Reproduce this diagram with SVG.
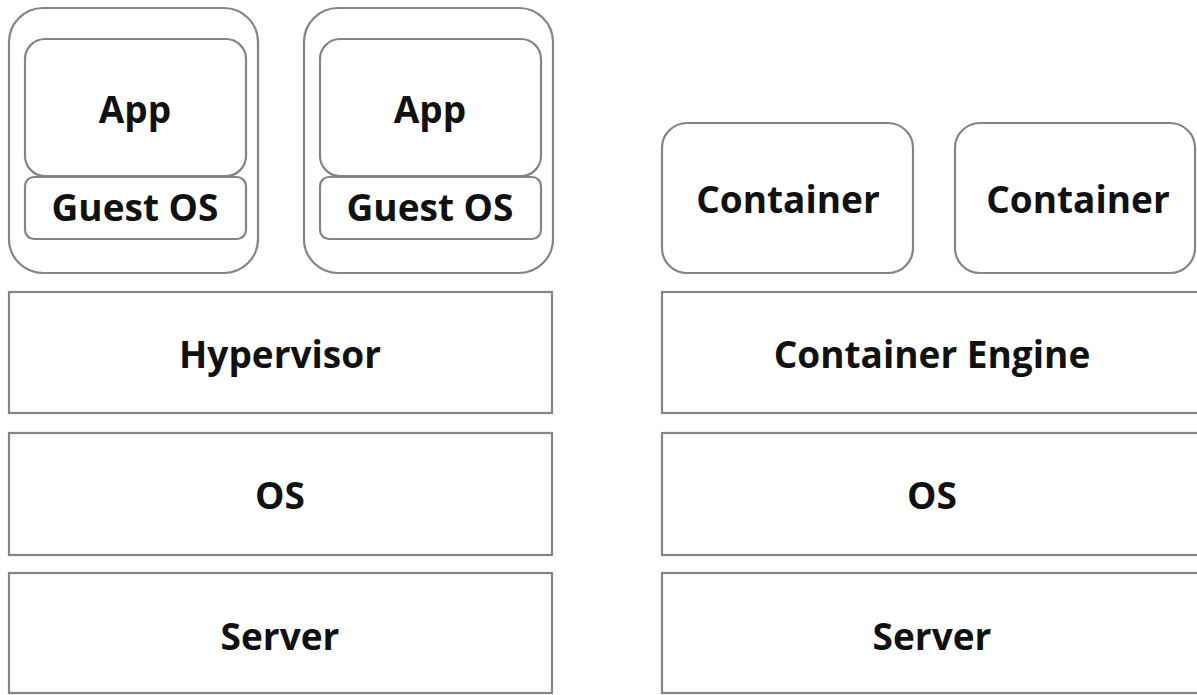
<svg xmlns="http://www.w3.org/2000/svg" width="1197" height="695" viewBox="0 0 1197 695">
<style>
.box{fill:#fff;stroke:#858585;stroke-width:2.2}
.t{font-family:"Open Sans","Liberation Sans",sans-serif;font-weight:bold;font-size:37px;fill:#111;text-anchor:middle}
</style>
<rect width="1197" height="695" fill="#fff"/>
<g id="vm1">
<rect class="box" x="9" y="8" width="249" height="265" rx="34"/>
<g id="vm1-app"><rect class="box" x="25" y="39" width="221" height="137" rx="20"/><text class="t" x="135" y="123">App</text></g>
<g id="vm1-guestos"><rect class="box" x="25" y="177" width="221" height="62" rx="9"/><text class="t" x="135" y="221">Guest OS</text></g>
</g>
<g id="vm2">
<rect class="box" x="304" y="8" width="249" height="265" rx="34"/>
<g id="vm2-app"><rect class="box" x="320" y="39" width="221" height="137" rx="20"/><text class="t" x="430" y="123">App</text></g>
<g id="vm2-guestos"><rect class="box" x="320" y="177" width="221" height="62" rx="9"/><text class="t" x="430" y="221">Guest OS</text></g>
</g>
<g id="hypervisor"><rect class="box" x="9" y="292" width="543" height="121"/><text class="t" x="280" y="368">Hypervisor</text></g>
<g id="os-left"><rect class="box" x="9" y="433" width="543" height="122"/><text class="t" x="280" y="509">OS</text></g>
<g id="server-left"><rect class="box" x="9" y="573" width="543" height="120"/><text class="t" x="280" y="650">Server</text></g>
<g id="container1"><rect class="box" x="662" y="123" width="251" height="150" rx="25"/><text class="t" x="788" y="213">Container</text></g>
<g id="container2"><rect class="box" x="955" y="123" width="240" height="150" rx="25"/><text class="t" x="1078" y="213">Container</text></g>
<g id="container-engine"><rect class="box" x="662" y="292" width="560" height="121"/><text class="t" x="932" y="368">Container Engine</text></g>
<g id="os-right"><rect class="box" x="662" y="433" width="560" height="122"/><text class="t" x="932" y="509">OS</text></g>
<g id="server-right"><rect class="box" x="662" y="573" width="560" height="120"/><text class="t" x="932" y="650">Server</text></g>
<g id="connectors"></g>
</svg>
